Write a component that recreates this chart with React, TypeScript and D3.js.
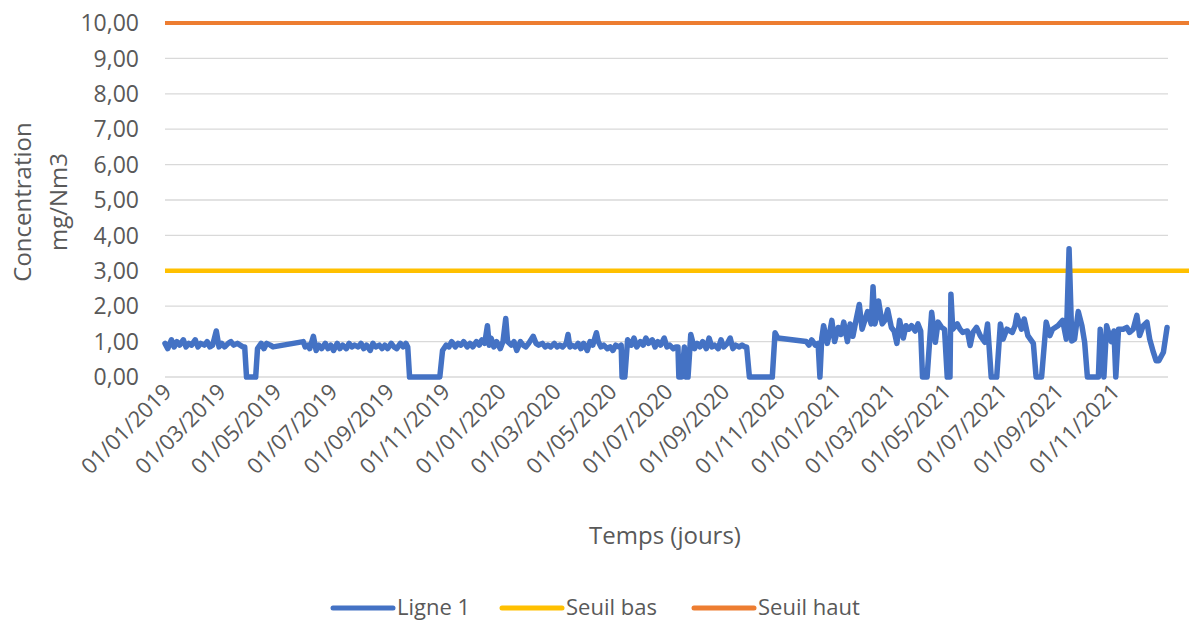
import React from "react";
import * as d3 from "d3";

// Ligne 1: [days since 01/01/2019, concentration mg/Nm3]
const ligne1: [number, number][] = [
  [0,0.95],[3,0.8],[7,1.05],[10,0.85],[13,1.0],[16,0.9],[20,1.05],[23,0.85],[26,0.95],[29,0.9],
  [33,1.05],[36,0.85],[39,0.95],[43,0.9],[46,1.0],[49,0.85],[52,0.9],[56,1.3],[59,0.85],[62,0.95],
  [65,0.85],[69,0.95],[72,1.0],[75,0.9],[79,0.95],[82,0.9],[85,0.85],[87,0.85],[89,0],[99,0],
  [101,0.8],[105,0.95],[108,0.8],[111,0.95],[115,0.9],[118,0.85],[151,1.0],[153,0.85],[156,0.9],[158,0.8],
  [162,1.15],[165,0.75],[168,0.9],[171,0.8],[175,0.95],[178,0.8],[181,0.9],[184,0.75],[188,0.95],[191,0.8],
  [194,0.9],[198,0.8],[201,0.95],[204,0.85],[207,0.9],[211,0.85],[214,0.95],[217,0.8],[220,0.9],[224,0.75],
  [227,0.95],[230,0.85],[234,0.9],[237,0.8],[240,0.9],[243,0.8],[247,0.95],[250,0.85],[253,0.8],[257,0.95],
  [260,0.85],[263,0.95],[265,0.85],[267,0],[300,0],[303,0.75],
  [307,0.9],[310,0.85],[313,1.0],[317,0.85],[320,0.95],[323,0.9],[326,1.0],[330,0.85],[333,0.95],[336,0.85],
  [340,1.0],[343,0.9],[346,1.05],[349,0.95],[352,1.45],[354,0.9],[356,1.1],[359,0.85],[362,1.0],[366,0.8],
  [369,1.0],[372,1.65],[374,1.0],[378,0.9],[381,1.0],[384,0.75],[388,1.0],[391,0.9],[394,0.85],[397,0.95],
  [402,1.15],[405,0.95],[408,0.9],[412,0.95],[415,0.85],[418,0.9],[421,0.85],[425,0.95],[428,0.85],[431,0.9],
  [434,0.85],[438,0.95],[440,1.2],[442,0.85],[444,0.9],[448,0.85],[451,0.95],[454,0.8],[457,0.95],[461,0.75],
  [464,1.0],[467,0.9],[471,1.25],[473,1.0],[476,0.85],[479,0.9],[483,0.8],[486,0.85],[489,0.75],[492,0.9],
  [496,0.85],[498,0.9],[499,0],[502,0],[505,1.05],[509,0.9],[512,1.1],[515,0.85],[519,1.0],[522,0.9],
  [525,1.1],[528,0.95],[532,1.05],[535,0.85],[538,1.0],[541,0.9],[545,1.1],[548,0.85],[551,0.9],[555,0.8],
  [558,0.85],[560,0.85],[561,0],[564,0],[567,0.85],[569,0],[571,0],[574,1.2],[578,0.8],[581,0.95],
  [584,0.85],[587,1.0],[591,0.8],[594,1.1],[597,0.85],[600,0.9],[604,0.8],[607,1.05],[610,0.85],[614,0.95],
  [617,1.1],[620,0.8],[623,0.9],[627,0.85],[630,0.9],[633,0.85],[635,0.85],[638,0],[663,0],[666,1.25],
  [669,1.1],[700,1.0],[703,0.9],[706,1.05],[710,0.9],[713,0.95],[715,0],[717,1.1],[719,1.45],[723,0.95],
  [726,1.3],[728,1.6],[731,1.0],[735,1.4],[738,1.2],[741,1.55],[745,1.0],[748,1.5],[751,1.15],[754,1.55],
  [758,2.05],[761,1.35],[764,1.6],[767,1.85],[771,1.5],[773,2.55],[775,1.5],[777,1.7],[779,2.15],[783,1.5],
  [786,1.6],[789,1.9],[793,1.4],[796,1.3],[799,0.95],[802,1.6],[806,1.1],[809,1.45],[812,1.35],[815,1.45],
  [819,1.3],[822,1.5],[825,1.3],[827,0],[832,0],[835,1.1],[837,1.83],[841,0.98],[844,1.55],[848,1.4],
  [851,1.35],[854,0],[857,0],[858,2.34],[860,1.35],[865,1.5],[868,1.35],[871,1.26],[876,1.3],[879,0.89],
  [882,1.26],[886,1.4],[890,1.17],[895,0.98],[898,1.5],[902,0],[908,0],[912,1.5],[915,1.07],[919,1.35],
  [925,1.26],[928,1.45],[930,1.74],[935,1.35],[938,1.64],[942,1.17],[948,0.95],[951,0],[957,0],[962,1.55],
  [966,1.17],[969,1.35],[975,1.45],[980,1.6],[984,1.07],[987,3.62],[990,1.02],[993,1.07],[997,1.85],[1001,1.45],
  [1004,0.98],[1007,0],[1019,0],[1021,1.35],[1025,0],[1028,1.45],[1033,1.0],[1036,1.3],[1038,0],[1041,1.35],
  [1046,1.35],[1050,1.4],[1053,1.26],[1057,1.35],[1061,1.74],[1064,1.17],[1068,1.45],[1072,1.55],[1075,1.07],[1079,0.7],
  [1082,0.46],[1085,0.46],[1090,0.7],[1094,1.4],
];

const seuilBas = 3;
const seuilHaut = 10;
const seuilDates = ["2019-01-01", "2022-01-23"];
const axisDomain = ["2019-01-01", "2021-12-31"];
const yTicks = [0, 1, 2, 3, 4, 5, 6, 7, 8, 9, 10];
const legendItems = [
  { name: "Ligne 1", color: "#4472C4" },
  { name: "Seuil bas", color: "#FFC000" },
  { name: "Seuil haut", color: "#ED7D31" },
];

const W = 1189;
const H = 622;
const FONT = "'Open Sans', sans-serif";
const TXT = "#595959";

export default function App() {
  const parse = d3.utcParse("%Y-%m-%d");
  const start = parse(axisDomain[0])!;
  const x = d3
    .scaleUtc()
    .domain([start, parse(axisDomain[1])!])
    .range([165, 1168]);
  const y = d3.scaleLinear().domain([0, 10]).range([377, 23]);
  const dayToDate = (d: number) => d3.utcDay.offset(start, d);
  const line = d3
    .line<[number, number]>()
    .x((d) => x(dayToDate(d[0])))
    .y((d) => y(d[1]));
  const xTicks = d3.utcMonth.every(2)!.range(start, d3.utcDay.offset(parse(axisDomain[1])!, 1));
  const fmtDate = d3.utcFormat("%d/%m/%Y");
  const fmtY = (v: number) => d3.format(".2f")(v).replace(".", ",");
  const seuilLine = (v: number) =>
    d3
      .line<string>()
      .x((d) => x(parse(d)!))
      .y(() => y(v))(seuilDates)!;

  const legendX = [333, 502, 694];

  return (
    <svg
      width={W}
      height={H}
      style={{ position: "absolute", left: 0, top: 0, background: "#fff" }}
      fontFamily={FONT}
    >
      {yTicks.map((t) => (
        <g key={t}>
          <line x1={165} x2={1168} y1={y(t)} y2={y(t)} stroke="#D9D9D9" strokeWidth={1.3} />
          <text x={139} y={y(t)} dy="0.36em" textAnchor="end" fontSize={23} fill={TXT}>
            {fmtY(t)}
          </text>
        </g>
      ))}
      {xTicks.map((t, i) => (
        <text
          key={i}
          transform={`translate(${x(t) + 8},${393}) rotate(-45)`}
          textAnchor="end"
          fontSize={22}
          fill={TXT}
        >
          {fmtDate(t)}
        </text>
      ))}
      <path d={seuilLine(seuilBas)} stroke="#FFC000" strokeWidth={4.5} fill="none" />
      <path d={seuilLine(seuilHaut)} stroke="#ED7D31" strokeWidth={4} fill="none" />
      <path
        d={line(ligne1)!}
        stroke="#4472C4"
        strokeWidth={5.5}
        fill="none"
        strokeLinejoin="round"
        strokeLinecap="round"
      />
      <text
        transform={`translate(22,202) rotate(-90)`}
        textAnchor="middle"
        dy="0.36em"
        fontSize={24}
        fill={TXT}
      >
        Concentration
      </text>
      <text
        transform={`translate(58,202) rotate(-90)`}
        textAnchor="middle"
        dy="0.36em"
        fontSize={24}
        fill={TXT}
      >
        mg/Nm3
      </text>
      <text x={665} y={544} textAnchor="middle" fontSize={24} fill={TXT}>
        Temps (jours)
      </text>
      {legendItems.map((it, i) => (
        <g key={it.name}>
          <line
            x1={legendX[i]}
            x2={legendX[i] + 60}
            y1={608}
            y2={608}
            stroke={it.color}
            strokeWidth={5}
            strokeLinecap="round"
          />
          <text x={legendX[i] + 64} y={608} dy="0.34em" fontSize={22} fill={TXT}>
            {it.name}
          </text>
        </g>
      ))}
    </svg>
  );
}
